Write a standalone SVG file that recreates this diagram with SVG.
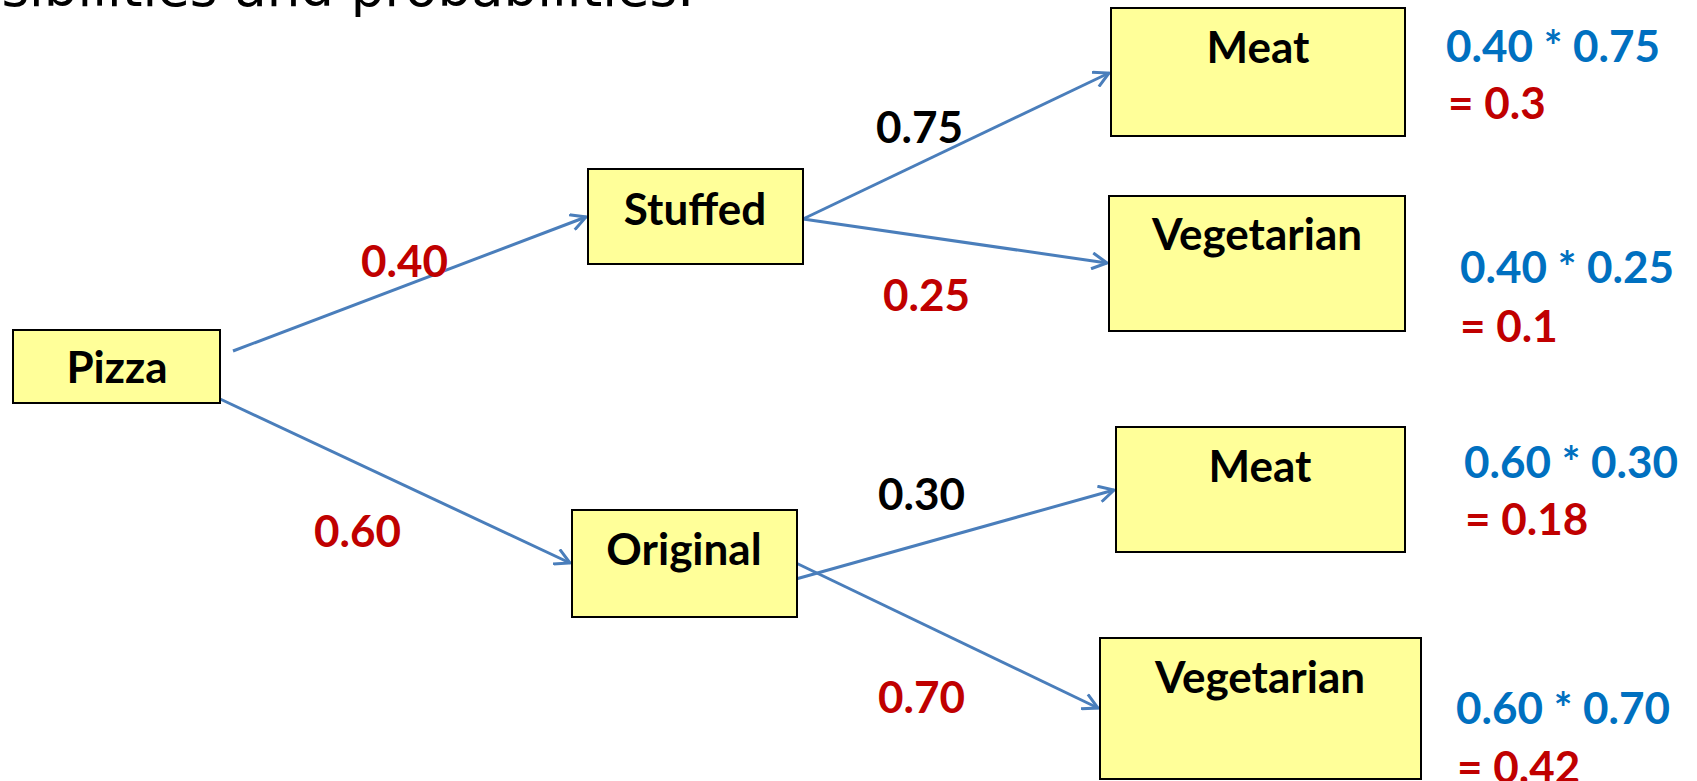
<svg xmlns="http://www.w3.org/2000/svg" width="1697" height="781" viewBox="0 0 1697 781">
<defs>
<style>
.box{fill:#FFFF99;stroke:#000;stroke-width:2}
.node{font-family:Lato,"Liberation Sans",sans-serif;font-weight:bold;font-size:44px;fill:#000;text-anchor:middle}
.lbl{font-family:Lato,"Liberation Sans",sans-serif;font-weight:bold;font-size:44px}
.red{fill:#C00000}
.blk{fill:#000}
.blue{fill:#0070C0}
.conn{stroke:#4A7EBB;stroke-width:3;fill:none;marker-end:url(#arr)}
.title{font-family:"DejaVu Sans",sans-serif;font-size:53px;fill:#000}
</style>
<marker id="arr" markerUnits="userSpaceOnUse" viewBox="-16 -9 18 18" refX="0" refY="0" markerWidth="18" markerHeight="18" orient="auto">
<path d="M-15,-8 L0,0 L-15,8" fill="none" stroke="#4A7EBB" stroke-width="3"/>
</marker>
</defs>
<rect width="1697" height="781" fill="#fff"/>
<text class="title" x="694" y="6" text-anchor="end">sibilities and probabilities.</text>

<g id="connectors">
<line class="conn" x1="233" y1="351" x2="586" y2="217"/>
<line class="conn" x1="218" y1="398" x2="570" y2="563"/>
<line class="conn" x1="803" y1="219" x2="1109" y2="73"/>
<line class="conn" x1="803" y1="219" x2="1107" y2="263"/>
<line class="conn" x1="796" y1="579" x2="1114" y2="490"/>
<line class="conn" x1="796" y1="563" x2="1098" y2="708"/>
</g>

<g id="labels">
<text class="lbl red" x="361" y="277">0.40</text>
<text class="lbl red" x="314" y="547">0.60</text>
<text class="lbl blk" x="876" y="143">0.75</text>
<text class="lbl red" x="883" y="311">0.25</text>
<text class="lbl blk" x="878" y="510">0.30</text>
<text class="lbl red" x="878" y="713">0.70</text>
<text class="lbl blue" x="1446" y="62">0.40 * 0.75</text>
<text class="lbl red" x="1448" y="119">= 0.3</text>
<text class="lbl blue" x="1460" y="283">0.40 * 0.25</text>
<text class="lbl red" x="1460" y="342">= 0.1</text>
<text class="lbl blue" x="1464" y="478">0.60 * 0.30</text>
<text class="lbl red" x="1465" y="535">= 0.18</text>
<text class="lbl blue" x="1456" y="724">0.60 * 0.70</text>
<text class="lbl red" x="1457" y="783">= 0.42</text>
</g>

<g id="node-pizza">
<rect class="box" x="13" y="330" width="207" height="73"/>
<text class="node" x="117" y="383">Pizza</text>
</g>
<g id="node-stuffed">
<rect class="box" x="588" y="169" width="215" height="95"/>
<text class="node" x="695" y="225">Stuffed</text>
</g>
<g id="node-original">
<rect class="box" x="572" y="510" width="225" height="107"/>
<text class="node" x="684" y="565">Original</text>
</g>
<g id="node-meat-1">
<rect class="box" x="1111" y="8" width="294" height="128"/>
<text class="node" x="1258" y="63">Meat</text>
</g>
<g id="node-veg-1">
<rect class="box" x="1109" y="196" width="296" height="135"/>
<text class="node" x="1257" y="250">Vegetarian</text>
</g>
<g id="node-meat-2">
<rect class="box" x="1116" y="427" width="289" height="125"/>
<text class="node" x="1260" y="482">Meat</text>
</g>
<g id="node-veg-2">
<rect class="box" x="1100" y="638" width="321" height="141"/>
<text class="node" x="1260" y="693">Vegetarian</text>
</g>
</svg>
